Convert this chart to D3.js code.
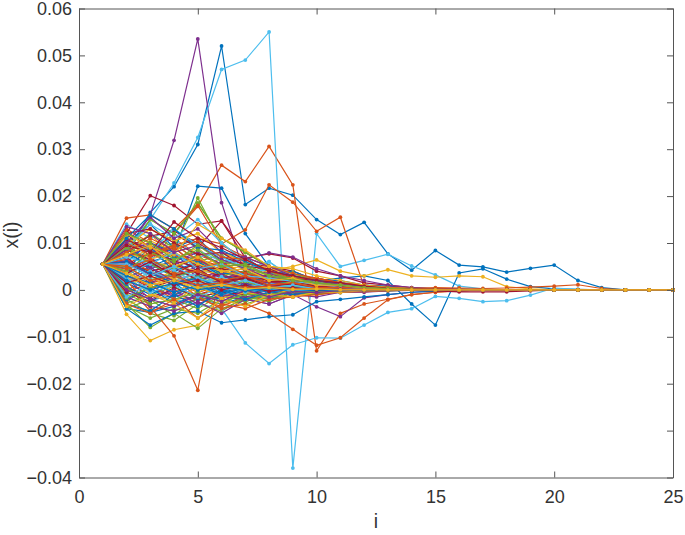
<!DOCTYPE html>
<html>
<head>
<meta charset="utf-8">
<script src="https://cdn.jsdelivr.net/npm/d3@7"></script>
<style>
  body { margin: 0; background: #fff; }
  text { font-family: "Liberation Sans", Arial, Helvetica, sans-serif; }
</style>
</head>
<body>
<script>
// index i = 1..25
var iValues = d3.range(1, 26);
var xTicks = [0, 5, 10, 15, 20, 25];
var yTicks = [-0.04, -0.03, -0.02, -0.01, 0, 0.01, 0.02, 0.03, 0.04, 0.05, 0.06];
// MATLAB default line colour order
var colorOrder = ["#0072BD", "#D95319", "#EDB120", "#7E2F8E", "#77AC30", "#4DBEEE", "#A2142F"];

// x(i) values, in units of 1e-3
// the few lines that stand out
var blue1   = [5.5,8.0,16.5,22.0,31.0,52.0,18.2,21.7,20.2,15.0,11.8,14.4,7.7,4.2,8.4,5.3,4.9,3.8,4.6,5.3,2.0,0.5,0,0,0];
var orange1 = [5.5,9.0,6.0,12.0,17.8,26.6,23.1,30.6,22.4,-13.0,-5.0,-3.0,-2.0,-1.0,-0.5,-0.2,0,0,0,0,0,0,0,0,0];
var yellow1 = [5.5,-5.2,-10.8,-8.5,-7.5,-3.0,-2.0,-1.0,-0.5,-0.2,0,0,0,0,0,0,0,0,0,0,0,0,0,0,0];
var purple1 = [5.5,8.0,16.0,31.9,53.5,18.6,3.0,1.5,2.0,1.0,0.5,0.3,0.2,0.1,0,0,0,0,0,0,0,0,0,0,0];
var green1  = [5.5,-3.0,-8.0,-5.0,-8.2,-4.0,-2.0,-1.0,-0.5,-0.2,0,0,0,0,0,0,0,0,0,0,0,0,0,0,0];
var cyan1   = [5.5,9.0,15.0,22.8,32.5,47.0,49.0,55.0,-38.0,12.0,5.0,6.3,7.6,5.1,3.2,0.8,0.2,0,0,0,0,0,0,0,0];
var red1    = [5.5,12.0,20.1,18.0,14.0,14.7,8.0,5.0,4.0,2.0,1.0,0.5,0.2,0,0,0,0,0,0,0,0,0,0,0,0];

var blue2   = [5.5,6.0,10.0,8.0,22.1,21.7,12.0,5.0,3.0,2.0,2.5,3.0,2.0,-3.0,-7.5,3.6,4.5,2.3,0.7,0.2,0.1,0,0,0,0];
var orange2 = [5.5,10.5,8.0,9.5,11.0,9.8,12.8,22.4,18.7,12.5,15.5,0.7,0.5,0.3,0.2,0.1,0,0,0,0,0,0,0,0,0];
var yellow2 = [5.5,8.0,6.0,5.0,4.0,3.5,3.0,4.0,5.0,6.4,4.0,3.0,4.3,3.0,2.7,3.0,2.8,0.7,0.2,0,0,0,0,0,0];
var purple2 = [5.5,2.0,0.0,-1.0,-2.0,-1.5,-2.0,-3.0,-1.0,-3.6,-5.7,-1.7,-1.0,-0.5,-0.2,0,0,0,0,0,0,0,0,0,0];
var green2  = [5.5,7.0,12.0,9.0,19.6,10.0,6.0,4.0,2.0,1.0,0.5,0.2,0,0,0,0,0,0,0,0,0,0,0,0,0];
var cyan2   = [5.5,3.0,0.0,-2.0,-3.0,-4.0,-11.3,-15.7,-11.7,-10.2,-10.3,-7.5,-4.8,-4.0,-1.4,-1.8,-2.5,-2.3,-1.1,0.4,0.1,0,0,0,0];
var red2    = [5.5,10.0,8.0,12.0,9.0,14.7,6.8,7.7,6.8,4.0,3.0,1.5,1.0,0.5,0.2,0,0,0,0,0,0,0,0,0,0];

var blue3   = [5.5,-4.0,-7.5,-5.0,-4.5,-7.0,-6.4,-5.7,-5.3,-2.5,-2.0,-1.5,-1.0,-0.5,-0.3,-0.2,0,0,0,0,0,0,0,0,0];
var orange3 = [5.5,2.0,-3.6,-9.8,-21.4,6.0,3.0,1.5,1.0,0.5,0.3,0.1,0,0,0,0,0,0,0,0,0,0,0,0,0];
var orange4 = [5.5,3.0,1.0,-2.0,-1.5,-4.0,-3.0,-5.0,-8.4,-11.8,-10.2,-6.0,-2.1,-1.0,-0.5,-0.2,0,0,0,0,0,0,0,0,0];
var purple3 = [5.5,7.0,9.5,6.0,8.0,5.5,6.5,7.9,7.0,4.5,3.0,2.0,1.0,0.5,0.2,0.1,0,0,0,0,0,0,0,0,0];

// the dense bundle, rows of seven in colour order
var bundle1 = [
  [5.5,9.5,6.0,7.5,4.0,5.0,2.5,3.0,1.2,1.5,0.6,0.8,0.3,0.3,0.1,0.1,0,0,0,0,0,0,0,0,0],
  [5.5,12.5,9.0,11.0,7.5,5.5,6.0,3.5,2.5,2.0,1.2,0.9,0.5,0.3,0.2,0.1,0,0,0,0,0,0,0,0,0],
  [5.5,2.0,3.5,1.0,2.2,0.5,1.4,0.3,0.8,0.2,0.4,0.1,0.2,0,0.1,0,0,0,0,0,0,0,0,0,0],
  [5.5,-2.5,1.0,-1.5,0.5,-0.8,0.4,-0.5,0.2,-0.2,0.1,-0.1,0,0,0,0,0,0,0,0,0,0,0,0,0],
  [5.5,11.0,8.5,10.0,6.0,7.5,4.0,3.5,2.5,1.8,1.2,0.8,0.5,0.3,0.2,0.1,0,0,0,0,0,0,0,0,0],
  [5.5,6.5,3.0,4.5,2.0,3.0,1.0,1.8,0.6,0.9,0.3,0.4,0.1,0.2,0,0,0,0,0,0,0,0,0,0,0],
  [5.5,0.5,-1.5,0.0,-1.0,0.5,-0.5,0.2,-0.3,0.1,-0.1,0,0,0,0,0,0,0,0,0,0,0,0,0,0]
];
var bundle2 = [
  [5.5,-4.0,-4.8,-3.5,-2.0,-3.0,-1.5,-1.8,-0.6,-0.8,-0.3,-0.3,-0.1,-0.1,0,0,0,0,0,0,0,0,0,0,0],
  [5.5,13.0,10.0,7.0,8.0,5.0,5.5,3.0,2.0,2.2,1.0,0.7,0.4,0.2,0.1,0,0,0,0,0,0,0,0,0,0],
  [5.5,8.0,12.0,6.5,9.0,4.5,5.0,2.0,3.0,1.0,1.5,0.5,0.6,0.2,0.2,0.1,0,0,0,0,0,0,0,0,0],
  [5.5,4.0,7.0,3.0,5.0,2.5,3.5,1.0,2.0,0.5,1.0,0.3,0.4,0.1,0.1,0,0,0,0,0,0,0,0,0,0],
  [5.5,-1.0,-3.0,-2.0,-4.0,-1.0,-2.0,-0.5,-1.0,-0.3,-0.5,-0.1,-0.2,0,0,0,0,0,0,0,0,0,0,0,0],
  [5.5,7.5,5.0,6.0,3.5,4.5,2.0,2.5,1.5,1.2,0.8,0.5,0.3,0.2,0.1,0,0,0,0,0,0,0,0,0,0],
  [5.5,3.0,0.5,2.0,-0.5,1.0,-0.8,0.5,-0.5,0.3,-0.2,0.1,0,0,0,0,0,0,0,0,0,0,0,0,0]
];
var bundle3 = [
  [5.5,10.0,14.0,9.0,11.0,6.0,7.0,3.5,4.0,2.0,2.0,1.0,0.8,0.4,0.3,0.1,0.1,0,0,0,0,0,0,0,0],
  [5.5,1.0,-4.5,-3.0,-2.0,-3.5,-1.5,-2.0,-0.8,-1.0,-0.4,-0.4,-0.1,-0.1,0,0,0,0,0,0,0,0,0,0,0],
  [5.5,5.0,4.0,2.5,3.0,1.5,2.0,0.8,1.2,0.4,0.6,0.2,0.3,0.1,0,0,0,0,0,0,0,0,0,0,0],
  [5.5,9.0,4.0,1.0,3.0,0.0,1.5,-0.5,0.5,0.0,0.2,0,0,0,0,0,0,0,0,0,0,0,0,0,0],
  [5.5,-3.5,-6.0,-4.0,-5.0,-2.0,-3.0,-1.5,-1.5,-0.6,-0.6,-0.2,-0.2,0,0,0,0,0,0,0,0,0,0,0,0],
  [5.5,6.0,9.0,11.0,7.0,8.0,4.5,4.0,2.5,2.0,1.2,1.0,0.5,0.4,0.2,0.1,0,0,0,0,0,0,0,0,0],
  [5.5,12.0,7.0,9.0,5.0,3.0,4.0,2.0,1.5,1.0,0.6,0.4,0.2,0.1,0,0,0,0,0,0,0,0,0,0,0]
];
var bundle4 = [
  [5.5,2.5,5.0,0.5,3.0,-0.5,1.5,-0.5,0.8,-0.2,0.3,0,0.1,0,0,0,0,0,0,0,0,0,0,0,0],
  [5.5,0.0,2.0,-1.0,1.0,-1.5,0.0,-1.0,0.0,-0.4,0.0,-0.1,0,0,0,0,0,0,0,0,0,0,0,0,0],
  [5.5,7.0,10.5,8.0,5.5,6.5,3.0,3.5,1.8,1.5,0.9,0.6,0.3,0.2,0.1,0,0,0,0,0,0,0,0,0,0],
  [5.5,4.5,1.5,3.5,1.0,2.0,0.3,1.0,0.0,0.4,0.0,0.1,0,0,0,0,0,0,0,0,0,0,0,0,0],
  [5.5,-2.0,-5.0,-6.5,-3.0,-4.5,-1.5,-2.5,-0.5,-1.0,-0.2,-0.3,0,0,0,0,0,0,0,0,0,0,0,0,0],
  [5.5,14.0,11.0,13.0,8.5,6.0,6.5,4.0,3.0,2.5,1.5,1.0,0.6,0.3,0.2,0.1,0,0,0,0,0,0,0,0,0],
  [5.5,8.5,6.5,4.0,5.5,2.5,3.0,1.5,1.5,0.8,0.6,0.3,0.2,0.1,0,0,0,0,0,0,0,0,0,0,0]
];
var bundle5 = [
  [5.5,1.5,-1.0,1.5,-2.0,0.0,-1.0,0.5,-0.5,0.1,-0.2,0,0,0,0,0,0,0,0,0,0,0,0,0,0],
  [5.5,5.5,8.0,5.0,6.5,3.5,4.0,2.0,2.0,1.0,1.0,0.4,0.4,0.1,0.1,0,0,0,0,0,0,0,0,0,0],
  [5.5,3.5,2.0,4.0,1.5,2.5,0.5,1.5,0.2,0.6,0.1,0.2,0,0,0,0,0,0,0,0,0,0,0,0,0],
  [5.5,10.5,9.0,5.5,7.0,4.0,2.5,3.0,1.0,1.2,0.5,0.4,0.2,0.1,0,0,0,0,0,0,0,0,0,0,0],
  [5.5,-4.0,-2.0,-5.5,-1.5,-3.0,-0.5,-1.5,-0.2,-0.6,0,-0.2,0,0,0,0,0,0,0,0,0,0,0,0,0],
  [5.5,6.0,2.5,3.0,0.5,1.8,0.0,0.8,-0.2,0.3,0,0.1,0,0,0,0,0,0,0,0,0,0,0,0,0],
  [5.5,9.0,11.5,12.5,10.0,7.0,5.5,5.0,3.0,2.5,1.5,1.0,0.6,0.3,0.2,0.1,0,0,0,0,0,0,0,0,0]
];
var bundle6 = [
  [5.5,4.5,9.0,4.0,6.0,3.0,2.0,2.5,1.0,0.8,0.4,0.3,0.1,0,0,0,0,0,0,0,0,0,0,0,0],
  [5.5,-1.0,-2.5,-4.5,-2.0,-1.0,-3.0,-1.0,-1.2,-0.4,-0.5,-0.2,-0.1,0,0,0,0,0,0,0,0,0,0,0,0],
  [5.5,9.5,13.0,10.5,12.0,8.0,6.0,4.5,3.5,2.0,1.5,0.8,0.5,0.2,0.1,0,0,0,0,0,0,0,0,0,0],
  [5.5,-1.5,-3.5,-4.5,-2.5,-5.0,-2.0,-3.0,-1.0,-1.5,-0.5,-0.5,-0.2,-0.1,0,0,0,0,0,0,0,0,0,0,0],
  [5.5,8.0,15.0,12.0,18.5,11.0,8.0,5.0,3.5,2.0,1.2,0.6,0.3,0.1,0,0,0,0,0,0,0,0,0,0,0],
  [5.5,10.0,8.0,13.0,9.5,7.0,4.5,6.0,2.5,1.5,1.0,0.5,0.3,0.1,0,0,0,0,0,0,0,0,0,0,0],
  [5.5,6.0,4.0,5.0,2.0,3.5,0.5,1.5,0.0,0.6,0.0,0.2,0,0,0,0,0,0,0,0,0,0,0,0,0]
];
var bundle7 = [
  [5.5,-2.0,0.5,-3.0,-1.0,-2.0,0.5,-1.2,0.2,-0.5,0,-0.2,0,0,0,0,0,0,0,0,0,0,0,0,0],
  [5.5,15.3,16.0,13.0,18.0,9.5,7.0,5.0,3.5,2.5,1.5,0.8,0.4,0.2,0.1,0,0,0,0,0,0,0,0,0,0],
  [5.5,1.0,3.0,-0.5,2.0,0.0,1.0,-0.5,0.5,0,0.2,0,0,0,0,0,0,0,0,0,0,0,0,0,0],
  [5.5,8.5,10.0,7.5,6.5,4.0,4.5,2.5,2.5,1.5,1.0,0.6,0.3,0.2,0.1,0,0,0,0,0,0,0,0,0,0],
  [5.5,3.0,6.0,4.5,7.5,3.0,4.0,2.0,1.5,1.0,0.6,0.3,0.1,0,0,0,0,0,0,0,0,0,0,0,0],
  [5.5,9.0,14.0,11.0,15.0,10.0,6.0,4.0,3.0,2.0,1.0,0.6,0.3,0.1,0,0,0,0,0,0,0,0,0,0,0],
  [5.5,-0.5,-2.5,0.5,-1.5,-0.5,-1.0,0.0,-0.5,0.0,-0.2,0,0,0,-0.2,-0.4,-0.4,-0.4,-0.2,0,0,0,0,0,0]
];
var bundle8 = [
  [5.5,8.0,5.0,7.0,6.0,3.5,3.5,2.0,2.0,1.0,0.8,0.4,0.2,0.1,0,0,0,0,0,0,0,0,0,0,0],
  [5.5,6.5,4.0,2.0,3.5,1.0,2.0,0.5,1.0,0.2,0.4,0.1,0.1,0,0,0,0,0,0,0,0,0,0,0,0],
  [5.5,11.5,6.5,8.0,5.5,4.0,3.0,2.5,1.5,1.0,0.5,0.3,0.2,0,0,0,0,0,0,0,0,0,0,0,0],
  [5.5,2.5,-2.0,0.0,-3.0,-1.0,-1.5,-0.5,-0.8,-0.2,-0.3,0,0,0,0,0,0,0,0,0,0,0,0,0,0],
  [5.5,5.0,2.0,3.5,0.0,2.0,-0.5,1.0,-0.3,0.4,0,0.1,0,0,0,0,0,0,0,0,0,0,0,0,0],
  [5.5,1.0,4.0,2.0,3.5,1.0,2.0,0.5,1.0,0.2,0.4,0,0.1,0,0,0,0,0,0,0,0,0,0,0,0],
  [5.5,12.0,13.0,10.0,7.5,8.0,5.0,4.5,2.5,2.0,1.0,0.7,0.4,0.2,0.1,0,0,0,0,0,0,0,0,0,0]
];
var bundle9 = [
  [5.5,-3.0,-4.5,-1.0,-3.5,0.0,-2.0,-0.5,-1.0,-0.2,-0.4,0,-0.1,0,0,0,0,0,0,0,0,0,0,0,0],
  [5.5,10.0,7.5,9.5,6.5,5.0,3.5,2.5,2.0,1.0,0.8,0.4,0.3,0.1,0,0,0,0,0,0,0,0,0,0,0],
  [5.5,4.0,1.0,2.5,-0.5,1.5,-0.2,0.8,0.0,0.3,0,0.1,0,0,0,0,0,0,0,0,0,0,0,0,0],
  [5.5,10.0,15.5,11.0,13.0,8.0,7.0,5.0,3.0,2.0,1.2,0.6,0.3,0.1,0,0,0,0,0,0,0,0,0,0,0],
  [5.5,9.0,5.5,3.0,4.0,1.5,2.5,0.5,1.0,0.2,0.4,0,0.1,0,0,0,0,0,0,0,0,0,0,0,0],
  [5.5,-1.5,1.5,-0.5,0.8,-1.0,0.3,-0.5,0.2,-0.2,0,0,0,0,0,0,0,0,0,0,0,0,0,0,0],
  [5.5,7.0,3.0,5.5,3.5,2.0,2.5,1.0,1.2,0.5,0.5,0.2,0.1,0,0,0,0,0,0,0,0,0,0,0,0]
];
var bundle10 = [
  [5.5,11.0,16.0,13.0,9.0,8.5,6.0,4.0,3.0,2.0,1.5,0.8,0.5,0.2,0.1,0,0,0,0,0,0,0,0,0,0],
  [5.5,8.0,11.0,8.5,10.5,7.0,6.5,4.0,2.5,2.5,1.5,1.0,0.5,0.3,0.5,0.4,0.3,0.4,0.6,0.8,1.1,0.3,0,0,0],
  [5.5,12.0,9.0,7.5,14.0,11.0,8.5,5.0,4.5,3.0,2.0,1.0,0.5,0.3,0.1,0,0,0,0,0,0,0,0,0,0],
  [5.5,5.5,3.5,2.0,1.0,2.0,0.5,1.0,0.2,0.4,0.1,0.1,0,0,0,0,0,0,0,0,0,0,0,0,0],
  [5.5,0.5,-3.0,-2.0,-0.5,-2.5,-1.0,-1.0,-0.4,-0.4,-0.1,-0.1,0,0,0,0,0,0,0,0,0,0,0,0,0],
  [5.5,7.0,5.5,8.0,4.5,5.5,3.0,2.5,1.8,1.2,0.6,0.4,0.2,0.1,0,0,0,0,0,0,0,0,0,0,0],
  [5.5,3.5,6.0,3.0,4.5,1.5,2.5,0.5,1.5,0.2,0.6,0,0.2,0,0,0,0,0,0,0,0,0,0,0,0]
];
var bundle11 = [
  [5.5,6.0,3.5,1.5,2.5,0.5,1.0,0.0,0.5,0,0.2,0,0,0,0,0,0,0,0,0,0,0,0,0,0],
  [5.5,-3.0,-5.0,-2.0,-6.0,-3.0,-4.0,-2.0,-1.5,-1.0,-0.5,-0.3,-0.1,0,0,0,0,0,0,0,0,0,0,0,0],
  [5.5,-3.5,-1.0,-3.0,-6.0,-2.0,-3.5,-1.0,-1.5,-0.5,-0.5,-0.2,-0.1,0,0,0,0,0,0,0,0,0,0,0,0],
  [5.5,13.5,12.0,8.0,9.5,6.5,4.5,3.5,2.0,1.5,0.8,0.5,0.2,0.1,0,0,0,0,0,0,0,0,0,0,0],
  [5.5,4.0,8.0,6.0,9.5,6.0,5.0,3.0,2.5,1.5,1.0,0.5,0.3,0.1,0,0,0,0,0,0,0,0,0,0,0],
  [5.5,2.5,-0.5,1.0,-1.5,0.5,-0.5,0.3,-0.3,0.1,0,0,0,0,0,0,0,0,0,0,0,0,0,0,0],
  [5.5,9.5,8.0,14.5,11.0,9.0,6.5,4.0,3.0,2.0,1.5,0.8,0.4,0.2,0.1,0,0,0,0,0,0,0,0,0,0]
];
var bundle12 = [
  [5.5,3.0,1.5,-0.5,1.0,-1.0,0.5,-0.5,0.2,-0.2,0.1,0,0,0,0,0,0,0,0,0,0,0,0,0,0],
  [5.5,4.5,6.5,3.5,4.0,2.0,3.0,1.0,1.5,0.5,0.6,0.2,0.2,0,0,0,0,0,0,0,0,0,0,0,0],
  [5.5,7.5,9.5,5.0,7.0,4.0,4.5,2.0,2.5,1.0,1.0,0.4,0.3,0.1,0,0,0,0,0,0,0,0,0,0,0],
  [5.5,0.0,-2.0,-3.5,-1.0,-2.5,0.0,-1.5,-0.3,-0.6,-0.1,-0.2,0,0,0,0,0,0,0,0,0,0,0,0,0],
  [5.5,12.0,10.0,6.5,8.5,5.0,5.5,3.0,2.0,1.5,1.0,0.5,0.3,0.1,0,0,0,0,0,0,0,0,0,0,0],
  [5.5,5.5,3.0,5.0,2.5,1.0,2.0,0.5,1.0,0.2,0.3,0.1,0,0,0,0,0,0,0,0,0,0,0,0,0],
  [5.5,1.5,3.0,1.0,2.0,0.0,1.0,-0.3,0.5,0,0.2,0,0,0,0,0,0,0,0,0,0,0,0,0,0]
];
var bundle13 = [
  [5.5,3.8,5.5,2.8,4.2,1.8,3.2,0.8,1.8,0.4,0.8,0.2,0.3,0.1,0,0,0,0,0,0,0,0,0,0,0],
  [5.5,-0.5,1.5,2.5,-1.5,1.2,-2.2,0.6,-1.2,0.2,-0.4,0.1,-0.1,0,0,0,0,0,0,0,0,0,0,0,0],
  [5.5,6.8,8.5,4.8,3.8,4.8,1.8,2.6,0.8,1.2,0.3,0.4,0.1,0,0,0,0,0,0,0,0,0,0,0,0],
  [5.5,1.8,4.5,6.2,2.8,3.8,2.2,1.2,1.6,0.4,0.6,0.1,0.2,0,0,0,0,0,0,0,0,0,0,0,0],
  [5.5,-2.8,-1.2,0.8,-2.2,-0.8,-2.6,-0.4,-1.0,-0.1,-0.4,0,0,0,0,0,0,0,0,0,0,0,0,0,0],
  [5.5,4.8,6.8,7.8,5.2,3.2,3.8,2.8,1.2,1.4,0.5,0.5,0.2,0.1,0,0,0,0,0,0,0,0,0,0,0],
  [5.5,8.8,5.8,3.2,6.2,4.2,2.2,3.2,1.6,0.8,0.9,0.3,0.3,0.1,0,0,0,0,0,0,0,0,0,0,0]
];
var bundle14 = [
  [5.5,0.8,-2.2,-1.2,1.2,-0.6,0.8,-0.6,0.3,-0.2,0.1,0,0,0,0,0,0,0,0,0,0,0,0,0,0],
  [5.5,7.8,7.2,9.2,4.6,5.8,2.8,2.2,2.2,0.9,0.8,0.3,0.2,0.1,0,0,0,0,0,0,0,0,0,0,0],
  [5.5,2.8,-0.8,-2.5,0.8,-1.8,-0.6,-1.2,0.2,-0.5,0,-0.1,0,0,0,0,0,0,0,0,0,0,0,0,0],
  [5.5,6.2,4.8,1.8,2.2,3.2,1.2,1.6,0.4,0.7,0.2,0.2,0,0,0,0,0,0,0,0,0,0,0,0,0],
  [5.5,-1.8,0.6,1.2,2.8,0.8,1.8,0.2,0.8,0.1,0.3,0,0,0,0,0,0,0,0,0,0,0,0,0,0],
  [5.5,3.2,5.8,4.2,1.2,2.8,0.6,1.4,0.6,0.3,0.3,0.1,0,0,0,0,0,0,0,0,0,0,0,0,0],
  [5.5,10.8,8.2,6.2,4.8,4.5,3.6,1.8,1.8,0.8,0.7,0.3,0.2,0.1,0,0,0,0,0,0,0,0,0,0,0]
];
var lastLines = [
  [5.5,2.0,0.0,1.5,0.0,0.8,-0.2,0.4,0.0,0.1,0,0,0,0,0,0,0,0,0,0,0,0,0,0,0],
  [5.5,5.0,2.0,3.0,1.0,1.5,0.5,0.8,0.2,0.3,0.1,0.1,0,0,0,0,0,0,0,0,0,0,0,0,0],
  [5.5,3.5,1.0,2.0,0.5,1.0,0.2,0.5,0.1,0.2,0,0,0,0,0,0,0,0,0,0,0,0,0,0,0]
];

// plot order; line k takes colour k mod 7, as in MATLAB
var series = [].concat(
  bundle1, bundle2,
  [blue1, orange1, yellow1, purple1, green1, cyan1, red1],
  bundle3, bundle13, bundle4,
  [blue2, orange2, yellow2, purple2, green2, cyan2, red2],
  bundle5,
  [blue3, orange3].concat(bundle6.slice(2, 3), [purple3], bundle6.slice(4)),
  [bundle6[0], orange4].concat(bundle6.slice(2)),
  bundle7, bundle8, bundle14, bundle9, bundle10, bundle11, bundle12,
  lastLines
);

var W = 685, H = 535;
var margin = {top: 8.5, right: 12, bottom: 57.5, left: 79},
    width = W - margin.left - margin.right,
    height = H - margin.top - margin.bottom;

var x = d3.scaleLinear().domain([0, 25]).range([0, width]);
var y = d3.scaleLinear().domain([-0.04, 0.06]).range([height, 0]);
var color = function(k) { return colorOrder[k % colorOrder.length]; };

var svg = d3.select("body").append("svg")
    .attr("width", W)
    .attr("height", H)
  .append("g")
    .attr("transform", "translate(" + margin.left + "," + margin.top + ")");

var line = d3.line()
    .x(function(d, i) { return x(iValues[i]); })
    .y(function(d) { return y(d * 1e-3); });

var lines = svg.selectAll(".run")
    .data(series)
  .enter().append("g")
    .attr("class", "run")
    .style("stroke", function(d, k) { return color(k); })
    .style("fill", function(d, k) { return color(k); });

lines.append("path")
    .attr("d", line)
    .style("fill", "none")
    .style("stroke-width", 1.2);

lines.selectAll("circle")
    .data(function(d) { return d; })
  .enter().append("circle")
    .attr("cx", function(d, i) { return x(iValues[i]); })
    .attr("cy", function(d) { return y(d * 1e-3); })
    .attr("r", 1.9)
    .style("stroke", "none");

// axes, ticks pointing inward like MATLAB
var axisColor = "#333";
var fmt = function(d) { return Math.abs(d) < 1e-12 ? "0" : d3.format(".2f")(d); };

var gx = svg.append("g")
    .attr("transform", "translate(0," + height + ")")
    .call(d3.axisBottom(x).tickValues(xTicks).tickSizeInner(-6).tickSizeOuter(0).tickPadding(13));
var gy = svg.append("g")
    .call(d3.axisLeft(y).tickValues(yTicks).tickFormat(fmt).tickSizeInner(-6).tickSizeOuter(0).tickPadding(7));
var gt = svg.append("g")
    .call(d3.axisTop(x).tickValues(xTicks).tickSizeInner(-6).tickSizeOuter(0).tickFormat(""));
var gr = svg.append("g")
    .attr("transform", "translate(" + width + ",0)")
    .call(d3.axisRight(y).tickValues(yTicks).tickSizeInner(-6).tickSizeOuter(0).tickFormat(""));

[gx, gy, gt, gr].forEach(function(g) {
  g.selectAll("path, line").style("stroke", "#555").style("stroke-width", 1);
  g.selectAll("text").style("fill", axisColor).style("font-size", "18px")
    .style("font-family", "'Liberation Sans', Arial, sans-serif");
});

svg.append("text")
    .attr("x", width / 2)
    .attr("y", height + 50)
    .attr("font-size", "19.5px")
    .style("fill", axisColor)
    .style("text-anchor", "middle")
    .text("i");

svg.append("text")
    .attr("transform", "rotate(-90)")
    .attr("x", -height / 2 + 8)
    .attr("y", -61)
    .attr("font-size", "19.5px")
    .style("fill", axisColor)
    .style("text-anchor", "middle")
    .text("x(i)");
</script>
</body>
</html>
